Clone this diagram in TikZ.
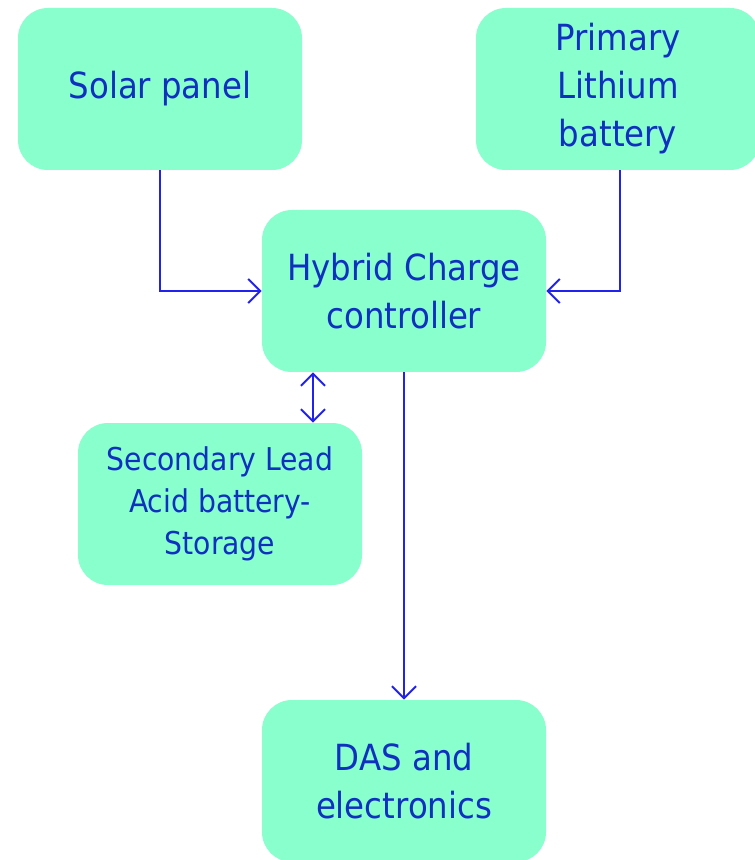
\documentclass[tikz,border=0pt]{standalone}
\usepackage{fontspec}
\setmainfont{DejaVu Sans Condensed}
\usetikzlibrary{arrows.meta,positioning}
\definecolor{boxgreen}{HTML}{88FFCC}
\definecolor{textblue}{HTML}{1030C0}
\definecolor{lineblue}{HTML}{2222EE}

\begin{document}
\begin{tikzpicture}[
  x=0.5pt, y=-0.5pt,
  >={Straight Barb[length=6pt,width=12pt]},
  block/.style={rectangle, fill=boxgreen, rounded corners=15pt, minimum width=142pt, minimum height=81pt, align=center, text=textblue, font=\fontsize{18}{24}\selectfont},
  smallblock/.style={block, font=\fontsize{15.7}{21}\selectfont},
  flow/.style={->, draw=lineblue, line width=1pt}
]
  \useasboundingbox (0,0) rectangle (754,860);
  \node[block] (solar) at (160,89) {Solar panel};
  \node[block] (primary) at (618,89) {Primary\\Lithium\\battery};
  \node[block] (hybrid) at (404,291) {Hybrid Charge\\controller};
  \node[smallblock] (store) at (220,504) {Secondary Lead\\Acid battery-\\Storage};
  \node[block] (das) at (404,781) {DAS and\\electronics};
  \draw[flow] (solar.south) |- (hybrid.west);
  \draw[flow] (primary.south) ++(2,0) |- (hybrid.east);
  \draw[flow, <->] ([xshift=-45.5pt]hybrid.south) -- ([xshift=-45.5pt]hybrid.south |- store.north);
  \draw[flow] (hybrid.south) -- (das.north);
\end{tikzpicture}
\end{document}
